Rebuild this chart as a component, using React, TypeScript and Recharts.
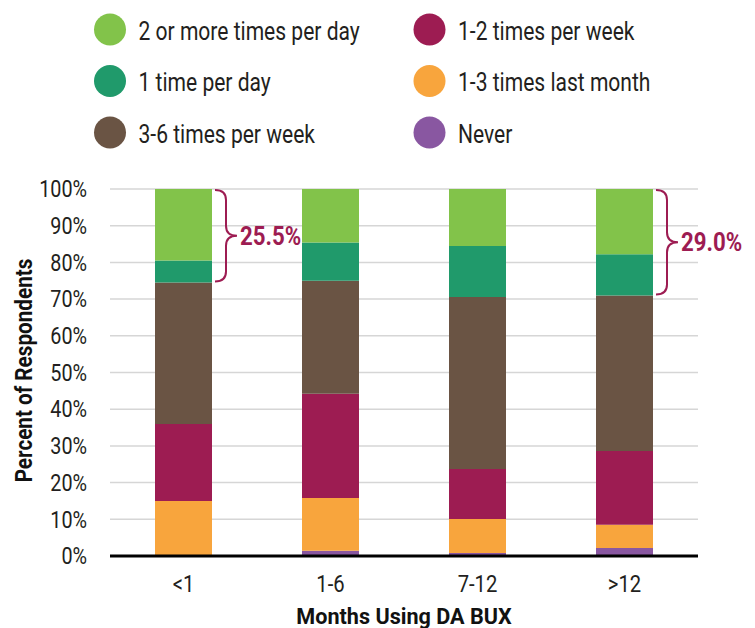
import React from 'react';
import { BarChart, Bar, XAxis, YAxis, CartesianGrid, LabelList } from 'recharts';

const categories = ['<1', '1-6', '7-12', '>12'];
const never = [0, 1.4, 0.8, 2.2];
const monthly13 = [15.0, 14.4, 9.3, 6.3];
const weekly12 = [21.0, 28.4, 13.6, 20.1];
const weekly36 = [38.5, 30.8, 46.9, 42.4];
const daily1 = [6.0, 10.4, 13.9, 11.2];
const daily2plus = [19.5, 14.6, 15.5, 17.8];
const notes = ['25.5%', '', '', '29.0%'];
const yTicks = [0, 10, 20, 30, 40, 50, 60, 70, 80, 90, 100];

const series = [
  { key: 'never', name: 'Never', color: '#8957a1', values: never },
  { key: 'monthly13', name: '1-3 times last month', color: '#f8a53d', values: monthly13 },
  { key: 'weekly12', name: '1-2 times per week', color: '#9d1c52', values: weekly12 },
  { key: 'weekly36', name: '3-6 times per week', color: '#6a5444', values: weekly36 },
  { key: 'daily1', name: '1 time per day', color: '#209a6b', values: daily1 },
  { key: 'daily2plus', name: '2 or more times per day', color: '#82c34a', values: daily2plus },
];

const legendOrder = [
  ['daily2plus', 'weekly12'],
  ['daily1', 'monthly13'],
  ['weekly36', 'never'],
];

const data = categories.map((c, i) => {
  const row: any = { cat: c, note: notes[i] };
  series.forEach((s) => { row[s.key] = s.values[i]; });
  return row;
});

const FONT = "Roboto, 'Noto Sans', sans-serif";
const ACCENT = '#9d1c52';
const TEXT = '#231f20';

const Brace = (props: any) => {
  const value = props.value;
  if (!value) return null;
  const i = notes.indexOf(value);
  if (i < 0) return null;
  const vb = props.viewBox || props;
  const x = Number(vb.x ?? props.x);
  const y = Number(vb.y ?? props.y);
  const width = Number(vb.width ?? props.width);
  const height = Number(vb.height ?? props.height);
  const pxPer = height / daily2plus[i];
  const top = y + 1;
  const bottom = y + (daily2plus[i] + daily1[i]) * pxPer - 1;
  const x0 = x + width + 3;
  const w = 22;
  const xm = x0 + w / 2;
  const mid = (top + bottom) / 2;
  const r = 10;
  const d = `M ${x0} ${top} Q ${xm} ${top} ${xm} ${top + r} L ${xm} ${mid - r} Q ${xm} ${mid} ${x0 + w} ${mid} Q ${xm} ${mid} ${xm} ${mid + r} L ${xm} ${bottom - r} Q ${xm} ${bottom} ${x0} ${bottom}`;
  return (
    <g>
      <path d={d} fill="none" stroke={ACCENT} strokeWidth={2} />
      <text
        transform={`translate(${x0 + w + 3},${mid + 9}) scale(0.89,1)`}
        fill={ACCENT}
        fontWeight="bold"
        fontSize={25}
        fontFamily={FONT}
      >
        {value}
      </text>
    </g>
  );
};

const YTick = (props: any) => {
  const { x, y, payload } = props;
  return (
    <text
      transform={`translate(${x},${y}) scale(0.86,1)`}
      textAnchor="end"
      dy="0.36em"
      fill={TEXT}
      fontSize={23}
      fontFamily={FONT}
    >
      {`${payload.value}%`}
    </text>
  );
};

const XTick = (props: any) => {
  const { x, y, payload } = props;
  return (
    <text
      transform={`translate(${x},${y + 36}) scale(0.88,1)`}
      textAnchor="middle"
      fill={TEXT}
      fontSize={23}
      fontFamily={FONT}
    >
      {payload.value}
    </text>
  );
};

const XTitle = (props: any) => {
  const vb = props.viewBox || {};
  const cx = vb.x + vb.width / 2;
  const by = vb.y + vb.height - 4;
  return (
    <text
      transform={`translate(${cx},${by}) scale(0.96,1)`}
      textAnchor="middle"
      fill="#111"
      fontSize={22.5}
      fontWeight="bold"
      fontFamily={FONT}
    >
      Months Using DA BUX
    </text>
  );
};

const YTitle = (props: any) => {
  const vb = props.viewBox || {};
  const cy = vb.y + vb.height / 2 - 2;
  return (
    <text
      transform={`translate(32,${cy}) rotate(-90) scale(0.9,1)`}
      textAnchor="middle"
      fill="#111"
      fontSize={23}
      fontWeight="bold"
      fontFamily={FONT}
    >
      Percent of Respondents
    </text>
  );
};

export default function App() {
  const byKey: any = {};
  series.forEach((s) => { byKey[s.key] = s; });
  const colCircle = [110, 429.5];
  const rowY = [29.5, 81, 132.5];
  return (
    <div style={{ position: 'absolute', left: 0, top: 0, width: 755, height: 628, background: '#fff', fontFamily: FONT }}>
      <svg width={755} height={160} style={{ position: 'absolute', left: 0, top: 0 }}>
        {legendOrder.map((row, r) =>
          row.map((k, c) => (
            <g key={k}>
              <circle cx={colCircle[c]} cy={rowY[r]} r={16} fill={byKey[k].color} />
              <text
                transform={`translate(${colCircle[c] + 28.5},${rowY[r] + 10}) scale(0.81,1)`}
                fill={TEXT}
                fontSize={26}
                fontFamily={FONT}
              >
                {byKey[k].name}
              </text>
            </g>
          ))
        )}
      </svg>
      <div style={{ position: 'absolute', left: 0, top: 0 }}>
        <BarChart
          width={755}
          height={628}
          data={data}
          margin={{ top: 189, right: 57, bottom: 0, left: 0 }}
          barSize={57}
        >
          <CartesianGrid vertical={false} stroke="#d6d6d6" strokeWidth={1.5} />
          <XAxis
            dataKey="cat"
            height={72}
            axisLine={{ stroke: '#000', strokeWidth: 3 }}
            tickLine={false}
            tickSize={0}
            tickMargin={0}
            tick={XTick}
            label={{ content: XTitle }}
          />
          <YAxis
            width={110}
            domain={[0, 100]}
            ticks={yTicks}
            interval={0}
            axisLine={false}
            tickLine={false}
            tickSize={0}
            tickMargin={23}
            tick={YTick}
            label={{ content: YTitle }}
          />
          {series.map((s) => (
            <Bar key={s.key} dataKey={s.key} name={s.name} stackId="a" fill={s.color} isAnimationActive={false}>
              {s.key === 'daily2plus' ? <LabelList dataKey="note" content={Brace} /> : null}
            </Bar>
          ))}
        </BarChart>
      </div>
    </div>
  );
}
